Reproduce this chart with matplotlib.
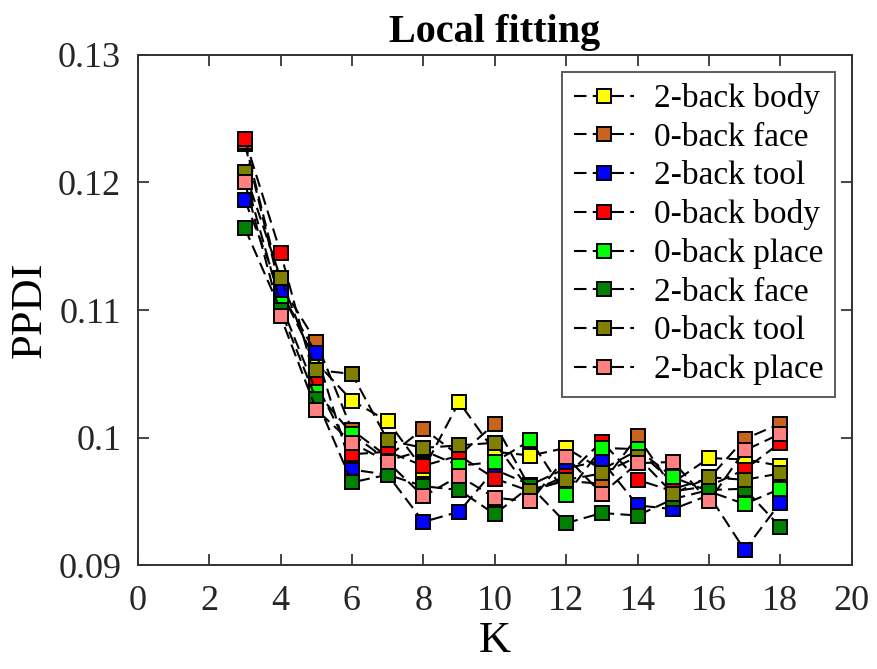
import matplotlib
matplotlib.use('Agg')
import matplotlib.pyplot as plt
from matplotlib.ticker import FuncFormatter

# K values and PPDI per condition
k = [3, 4, 5, 6, 7, 8, 9, 10, 11, 12, 13, 14, 15, 16, 17, 18]

labels = ['2-back body', '0-back face', '2-back tool', '0-back body',
          '0-back place', '2-back face', '0-back tool', '2-back place']

back2_body = [0.1230, 0.1115, 0.1059, 0.1029, 0.1013, 0.0975, 0.1028, 0.0989,
              0.0986, 0.0992, 0.0975, 0.0990, 0.0965, 0.0984, 0.0983, 0.0978]
back0_face = [0.1232, 0.1120, 0.1075, 0.1006, 0.0985, 0.1007, 0.0986, 0.1011,
              0.0960, 0.0966, 0.0964, 0.1001, 0.0960, 0.0968, 0.0999, 0.1011]
back2_tool = [0.1186, 0.1114, 0.1066, 0.0975, 0.0971, 0.0934, 0.0942, 0.0975,
              0.0963, 0.0976, 0.0982, 0.0947, 0.0944, 0.0955, 0.0912, 0.0949]
back0_body = [0.1234, 0.1145, 0.1042, 0.0987, 0.0989, 0.0978, 0.0986, 0.0968,
              0.0958, 0.0970, 0.0997, 0.0967, 0.0958, 0.0962, 0.0975, 0.0996]
back0_place = [0.1205, 0.1105, 0.1036, 0.1003, 0.0982, 0.0990, 0.0978, 0.0981,
               0.0998, 0.0955, 0.0992, 0.0991, 0.0969, 0.0958, 0.0948, 0.0960]
back2_face = [0.1164, 0.1100, 0.1030, 0.0965, 0.0971, 0.0962, 0.0959, 0.0940,
              0.0962, 0.0933, 0.0941, 0.0939, 0.0952, 0.0959, 0.0960, 0.0930]
back0_tool = [0.1208, 0.1125, 0.1053, 0.1050, 0.0998, 0.0992, 0.0994, 0.0996,
              0.0958, 0.0967, 0.0972, 0.0985, 0.0956, 0.0969, 0.0967, 0.0972]
back2_place = [0.1200, 0.1095, 0.1022, 0.0996, 0.0981, 0.0954, 0.0970, 0.0953,
               0.0950, 0.0985, 0.0956, 0.0980, 0.0981, 0.0950, 0.0990, 0.1003]

series = [back2_body, back0_face, back2_tool, back0_body,
          back0_place, back2_face, back0_tool, back2_place]
colors = ['#FFFF00', '#C8641E', '#0000FF', '#FF0000',
          '#00FF00', '#008000', '#808000', '#FF8080']

plt.rcParams['font.family'] = 'Liberation Serif'

fig = plt.figure(figsize=(8.78, 6.69), dpi=100)
ax = fig.add_axes([0.157, 0.155, 0.813, 0.763])

for vals, col, lab in zip(series, colors, labels):
    ax.plot(k, vals, color='black', linestyle=(0, (6, 3)), linewidth=1.5,
            marker='s', markersize=10.5, markerfacecolor=col,
            markeredgecolor='black', markeredgewidth=1.4, label=lab)

ax.set_xlim(0, 20)
ax.set_ylim(0.09, 0.13)
ax.set_xticks(range(0, 21, 2))
ax.set_yticks([0.09, 0.10, 0.11, 0.12, 0.13])
ax.yaxis.set_major_formatter(FuncFormatter(lambda v, p: '%g' % round(v, 4)))
ax.tick_params(direction='in', top=True, right=True, length=8, width=1.2,
               labelsize=26, colors='#262626')
ax.tick_params(axis='x', pad=14)
ax.tick_params(axis='y', pad=12)
for s in ax.spines.values():
    s.set_linewidth(1.4)
    s.set_color('#333333')

ax.set_xlabel('K', fontsize=32, labelpad=2)
ax.set_ylabel('PPDI', fontsize=32, labelpad=6)
ax.set_title('Local fitting', fontsize=29, fontweight='bold', pad=9)

leg = ax.legend(loc='upper right', fontsize=24, frameon=True, fancybox=False,
                edgecolor='#333333', handlelength=1.8, handletextpad=0.6,
                labelspacing=0.24, borderpad=0.35, borderaxespad=0.5)
leg.get_frame().set_linewidth(1.4)

fig.savefig('out.png', dpi=100)
